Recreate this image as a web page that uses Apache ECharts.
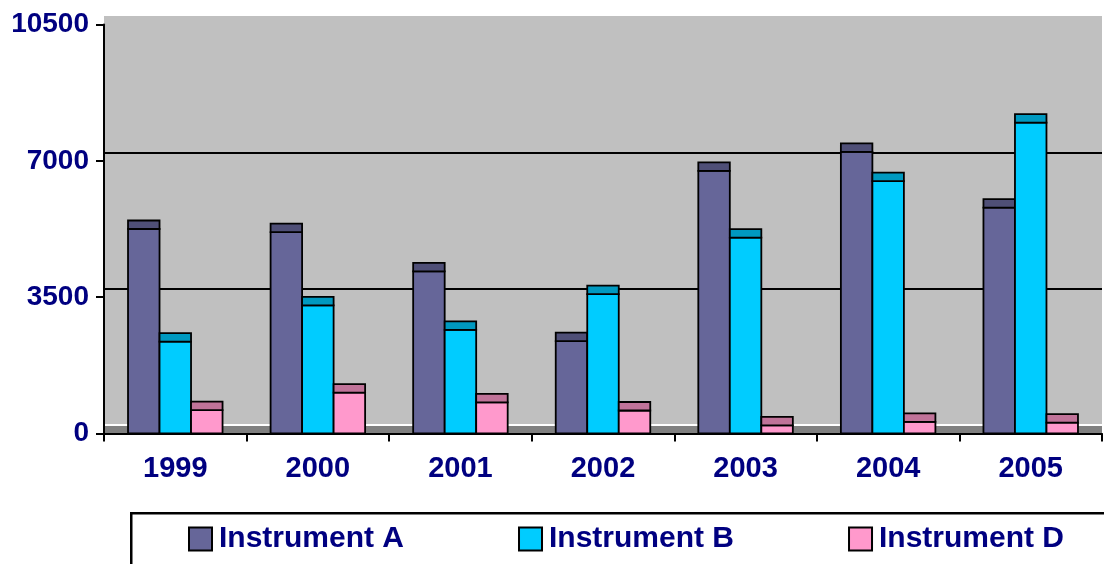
<!DOCTYPE html>
<html>
<head>
<meta charset="utf-8">
<script src="https://cdn.jsdelivr.net/npm/echarts@6/dist/echarts.min.js"></script>
<style>
  html, body { margin: 0; padding: 0; background: #ffffff; }
  #chart { width: 1104px; height: 564px; }
</style>
</head>
<body>
<div id="chart"></div>
<script>
// Yearly totals per instrument
const years = ['1999', '2000', '2001', '2002', '2003', '2004', '2005'];
const instrumentA = [5250, 5170, 4160, 2370, 6740, 7230, 5800];
const instrumentB = [2360, 3290, 2660, 3580, 5030, 6480, 7980];
const instrumentD = [600, 1050, 800, 590, 210, 300, 280];
const seriesNames = ['Instrument A', 'Instrument B', 'Instrument D'];
const yTicks = { min: 0, max: 10500, interval: 3500 };

const faceColors = ['#666699', '#00ccff', '#ff99cc'];
const topColors = ['#4f4f77', '#0099c0', '#c07399'];
const NAVY = '#000080';
const FONT = '"Liberation Sans", Arial, sans-serif';
const DEPTH = 8.5;        // vertical depth of the 3D columns, px
const BAR_RATIO = 0.221;  // column width relative to the category band

const chart = echarts.init(document.getElementById('chart'), null, { renderer: 'canvas' });

function columnRenderer(idx) {
  return function (params, api) {
    const cat = api.value(0);
    const base = api.coord([cat, 0]);
    const top = api.coord([cat, api.value(1)]);
    const band = api.size([1, 0])[0];
    const bw = band * BAR_RATIO;
    const x = base[0] + (idx - 1) * bw - bw / 2;
    return {
      type: 'group',
      children: [
        {
          type: 'rect',
          shape: { x: x, y: top[1], width: bw, height: base[1] - top[1] },
          style: { fill: faceColors[idx], stroke: '#000', lineWidth: 1.8 }
        },
        {
          type: 'rect',
          shape: { x: x, y: top[1] - DEPTH, width: bw, height: DEPTH },
          style: { fill: topColors[idx], stroke: '#000', lineWidth: 1.8 }
        }
      ]
    };
  };
}

const values = [instrumentA, instrumentB, instrumentD];

const option = {
  backgroundColor: '#ffffff',
  animation: false,
  grid: [
    { // front plane: axes and columns
      left: 104, right: 2, top: 24.5, bottom: 130.5,
      show: true, backgroundColor: '#808080', borderWidth: 0,
      outerBoundsMode: 'none'
    },
    { // back wall with its gridlines
      left: 104, right: 2, top: 16, bottom: 139,
      show: true, backgroundColor: '#c0c0c0', borderWidth: 0,
      outerBoundsMode: 'none'
    }
  ],
  xAxis: [
    {
      type: 'category', gridIndex: 0, data: years, boundaryGap: true,
      axisLine: { show: true, lineStyle: { color: '#000', width: 2 } },
      axisTick: { show: true, inside: false, length: 8, alignWithLabel: false, lineStyle: { color: '#000', width: 2 } },
      axisLabel: { color: NAVY, fontWeight: 'bold', fontSize: 29, fontFamily: FONT, margin: 21 },
      splitLine: { show: false }
    },
    {
      type: 'category', gridIndex: 1, data: years, show: false
    }
  ],
  yAxis: [
    {
      type: 'value', gridIndex: 0, min: yTicks.min, max: yTicks.max, interval: yTicks.interval,
      axisLine: { show: true, lineStyle: { color: '#000', width: 2 } },
      axisTick: { show: true, inside: false, length: 8, lineStyle: { color: '#000', width: 2 } },
      axisLabel: {
        color: NAVY, fontWeight: 'bold', fontSize: 28, fontFamily: FONT, margin: 15,
        formatter: (v) => String(v)
      },
      splitLine: { show: false }
    },
    {
      type: 'value', gridIndex: 1, min: yTicks.min, max: yTicks.max, interval: yTicks.interval,
      axisLine: { show: false }, axisTick: { show: false }, axisLabel: { show: false },
      splitLine: {
        show: true,
        lineStyle: { width: 2, color: ['#ffffff', '#000000', '#000000', 'rgba(0,0,0,0)'] }
      }
    }
  ],
  legend: {
    data: seriesNames,
    left: 188, top: 524, padding: 0,
    itemWidth: 23, itemHeight: 23, itemGap: 114,
    icon: 'rect',
    itemStyle: { borderColor: '#000', borderWidth: 2 },
    textStyle: { color: NAVY, fontWeight: 'bold', fontSize: 30, fontFamily: FONT, padding: [0, 0, 0, 2] }
  },
  graphic: [
    {
      type: 'rect', left: 130, top: 512, z: -1,
      shape: { width: 1000, height: 80 },
      style: { fill: '#fff', stroke: '#000', lineWidth: 2.5 }
    }
  ],
  series: seriesNames.map((name, i) => ({
    name: name,
    type: 'custom',
    xAxisIndex: 0, yAxisIndex: 0,
    itemStyle: { color: faceColors[i] },
    renderItem: columnRenderer(i),
    encode: { x: 0, y: 1 },
    data: years.map((y, k) => [k, values[i][k]]),
    z: 5
  }))
};

chart.setOption(option);
</script>
</body>
</html>
